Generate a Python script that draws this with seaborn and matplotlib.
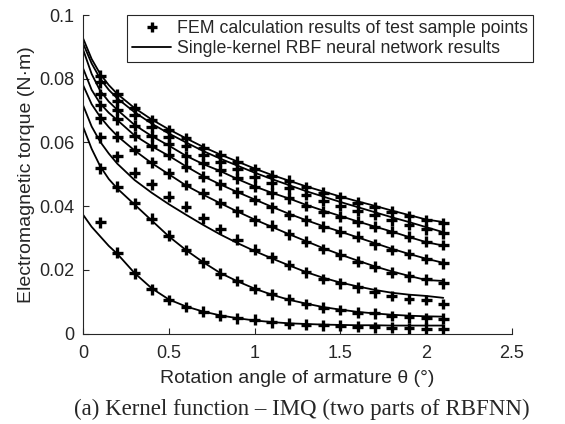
import numpy as np
import pandas as pd
import matplotlib
matplotlib.use("Agg")
import matplotlib.pyplot as plt
from matplotlib.lines import Line2D
import seaborn as sns

# Rotation angles of the FEM test sample points (deg)
theta_fem = [0.1, 0.2, 0.3, 0.4, 0.5, 0.6, 0.7, 0.8, 0.9, 1.0, 1.1,
             1.2, 1.3, 1.4, 1.5, 1.6, 1.7, 1.8, 1.9, 2.0, 2.1]

# FEM torque at the test sample points (N*m), one list per curve, top to bottom
fem_1 = [0.0810, 0.0752, 0.0708, 0.0670, 0.0639, 0.0613, 0.0582, 0.0560, 0.0539, 0.0515, 0.0495,
         0.0480, 0.0459, 0.0442, 0.0428, 0.0411, 0.0396, 0.0383, 0.0369, 0.0356, 0.0346]
fem_2 = [0.0789, 0.0730, 0.0686, 0.0649, 0.0618, 0.0590, 0.0562, 0.0540, 0.0515, 0.0492, 0.0472,
         0.0456, 0.0435, 0.0417, 0.0400, 0.0386, 0.0372, 0.0356, 0.0341, 0.0327, 0.0315]
fem_3 = [0.0752, 0.0703, 0.0652, 0.0620, 0.0594, 0.0556, 0.0534, 0.0513, 0.0487, 0.0461, 0.0440,
         0.0424, 0.0400, 0.0383, 0.0367, 0.0351, 0.0335, 0.0320, 0.0304, 0.0288, 0.0278]
fem_4 = [0.0717, 0.0672, 0.0620, 0.0590, 0.0562, 0.0524, 0.0492, 0.0468, 0.0443, 0.0419, 0.0396,
         0.0372, 0.0356, 0.0335, 0.0320, 0.0304, 0.0280, 0.0262, 0.0250, 0.0234, 0.0220]
fem_5 = [0.0676, 0.0618, 0.0576, 0.0538, 0.0503, 0.0466, 0.0440, 0.0410, 0.0384, 0.0356, 0.0338,
         0.0312, 0.0288, 0.0265, 0.0247, 0.0226, 0.0210, 0.0191, 0.0180, 0.0170, 0.0158]
fem_6 = [0.0616, 0.0556, 0.0505, 0.0468, 0.0430, 0.0398, 0.0362, 0.0328, 0.0295, 0.0263, 0.0239,
         0.0215, 0.0192, 0.0171, 0.0158, 0.0145, 0.0129, 0.0118, 0.0108, 0.0105, 0.0093]
fem_7 = [0.0519, 0.0461, 0.0409, 0.0360, 0.0307, 0.0262, 0.0223, 0.0188, 0.0165, 0.0140, 0.0123,
         0.0107, 0.0093, 0.0081, 0.0074, 0.0065, 0.0063, 0.0055, 0.0051, 0.0048, 0.0047]
fem_8 = [0.0349, 0.0254, 0.0189, 0.0139, 0.0105, 0.0083, 0.0068, 0.0056, 0.0048, 0.0043, 0.0035,
         0.0031, 0.0028, 0.0026, 0.0024, 0.0022, 0.0020, 0.0018, 0.0016, 0.0015, 0.0014]

# Rotation angles at which the RBF network output is evaluated (deg)
theta_rbf = [0.0, 0.05, 0.1, 0.15, 0.2, 0.3, 0.4, 0.5, 0.6, 0.7, 0.8, 0.9, 1.0,
             1.1, 1.2, 1.3, 1.4, 1.5, 1.6, 1.7, 1.8, 1.9, 2.0, 2.1]

# Single-kernel RBF neural network torque prediction (N*m), top to bottom
rbf_1 = [0.0927, 0.0862, 0.0815, 0.0780, 0.0752, 0.0708, 0.0672, 0.0641, 0.0613, 0.0586, 0.0562, 0.0540,
         0.0518, 0.0498, 0.0480, 0.0462, 0.0446, 0.0430, 0.0415, 0.0401, 0.0386, 0.0372, 0.0358, 0.0350]
rbf_2 = [0.0911, 0.0848, 0.0800, 0.0765, 0.0738, 0.0695, 0.0659, 0.0628, 0.0600, 0.0573, 0.0549, 0.0527,
         0.0505, 0.0485, 0.0466, 0.0447, 0.0430, 0.0413, 0.0397, 0.0381, 0.0365, 0.0350, 0.0334, 0.0318]
rbf_3 = [0.0892, 0.0815, 0.0762, 0.0728, 0.0702, 0.0655, 0.0620, 0.0590, 0.0558, 0.0532, 0.0510, 0.0485,
         0.0462, 0.0442, 0.0424, 0.0404, 0.0386, 0.0369, 0.0352, 0.0336, 0.0320, 0.0303, 0.0287, 0.0276]
rbf_4 = [0.0833, 0.0765, 0.0722, 0.0693, 0.0670, 0.0622, 0.0588, 0.0558, 0.0525, 0.0494, 0.0468, 0.0444,
         0.0421, 0.0398, 0.0376, 0.0356, 0.0337, 0.0320, 0.0302, 0.0284, 0.0266, 0.0250, 0.0235, 0.0222]
rbf_5 = [0.0780, 0.0720, 0.0680, 0.0648, 0.0620, 0.0575, 0.0535, 0.0500, 0.0465, 0.0436, 0.0409, 0.0383,
         0.0358, 0.0335, 0.0312, 0.0290, 0.0268, 0.0248, 0.0229, 0.0211, 0.0195, 0.0181, 0.0168, 0.0165]
rbf_6 = [0.0717, 0.0650, 0.0602, 0.0565, 0.0533, 0.0482, 0.0442, 0.0406, 0.0373, 0.0341, 0.0311, 0.0284,
         0.0259, 0.0236, 0.0214, 0.0193, 0.0175, 0.0160, 0.0148, 0.0137, 0.0128, 0.0122, 0.0118, 0.0112]
rbf_7 = [0.0649, 0.0580, 0.0525, 0.0485, 0.0455, 0.0405, 0.0355, 0.0305, 0.0262, 0.0224, 0.0190, 0.0164,
         0.0141, 0.0122, 0.0106, 0.0094, 0.0083, 0.0075, 0.0068, 0.0063, 0.0059, 0.0056, 0.0054, 0.0053]
rbf_8 = [0.0373, 0.0335, 0.0305, 0.0275, 0.0250, 0.0190, 0.0142, 0.0107, 0.0085, 0.0069, 0.0057, 0.0048,
         0.0041, 0.0036, 0.0032, 0.0030, 0.0028, 0.0027, 0.0026, 0.0026, 0.0025, 0.0025, 0.0025, 0.0025]

fem_series = [fem_1, fem_2, fem_3, fem_4, fem_5, fem_6, fem_7, fem_8]
rbf_series = [rbf_1, rbf_2, rbf_3, rbf_4, rbf_5, rbf_6, rbf_7, rbf_8]

fem_df = pd.concat(
    [pd.DataFrame({"theta": theta_fem, "torque": v, "curve": i}) for i, v in enumerate(fem_series)],
    ignore_index=True)
rbf_df = pd.concat(
    [pd.DataFrame({"theta": theta_rbf, "torque": v, "curve": i}) for i, v in enumerate(rbf_series)],
    ignore_index=True)

sns.set_theme(style="ticks")
plt.rcParams["font.family"] = ["Liberation Sans", "DejaVu Sans"]

fig = plt.figure(figsize=(5.65, 4.24), dpi=100)
ax = fig.add_axes([0.147, 0.2134, 0.759, 0.7512])

black = ["black"] * len(rbf_series)
sns.lineplot(data=rbf_df, x="theta", y="torque", hue="curve", palette=black,
             linewidth=1.3, legend=False, ax=ax, sort=False, estimator=None)
sns.scatterplot(data=fem_df, x="theta", y="torque", hue="curve", palette=black,
                marker="+", s=60, linewidth=2.4, legend=False, ax=ax, zorder=3)

ax.set_xlim(0, 2.5)
ax.set_ylim(0, 0.1)
ax.set_xticks([0, 0.5, 1, 1.5, 2, 2.5])
ax.set_xticklabels(["0", "0.5", "1", "1.5", "2", "2.5"])
ax.set_yticks([0, 0.02, 0.04, 0.06, 0.08, 0.1])
ax.set_yticklabels(["0", "0.02", "0.04", "0.06", "0.08", "0.1"])
ax.tick_params(direction="in", length=4, width=0.8, labelsize=13, colors="#262626")
ax.tick_params(axis="x", pad=8)
ax.tick_params(axis="y", pad=6)
for side in ("top", "right"):
    ax.spines[side].set_visible(False)
for side in ("left", "bottom"):
    ax.spines[side].set_color("#262626")
    ax.spines[side].set_linewidth(0.8)

ax.set_xlabel("Rotation angle of armature θ (°)", fontsize=14, color="#262626", labelpad=6)
ax.set_ylabel("Electromagnetic torque (N·m)", fontsize=14, color="#262626", labelpad=3)

handles = [
    Line2D([], [], color="black", marker="+", linestyle="none", markersize=7.5, markeredgewidth=2.4),
    Line2D([], [], color="black", linewidth=1.3),
]
labels = ["FEM calculation results of test sample points",
          "Single-kernel RBF neural network results"]
leg = ax.legend(handles, labels, loc="upper right", bbox_to_anchor=(1.049, 1.0),
                fontsize=12.8, frameon=True, fancybox=False, framealpha=1,
                edgecolor="#262626", borderpad=0.3, handlelength=2.2,
                handletextpad=0.3, labelspacing=0.15, borderaxespad=0)
leg.get_frame().set_linewidth(0.8)

fig.text(0.535, 0.035, "(a) Kernel function – IMQ (two parts of RBFNN)",
         ha="center", va="center", fontsize=16.5, family=["Liberation Serif", "DejaVu Serif"])

fig.savefig("out.png", dpi=100, facecolor="white")
